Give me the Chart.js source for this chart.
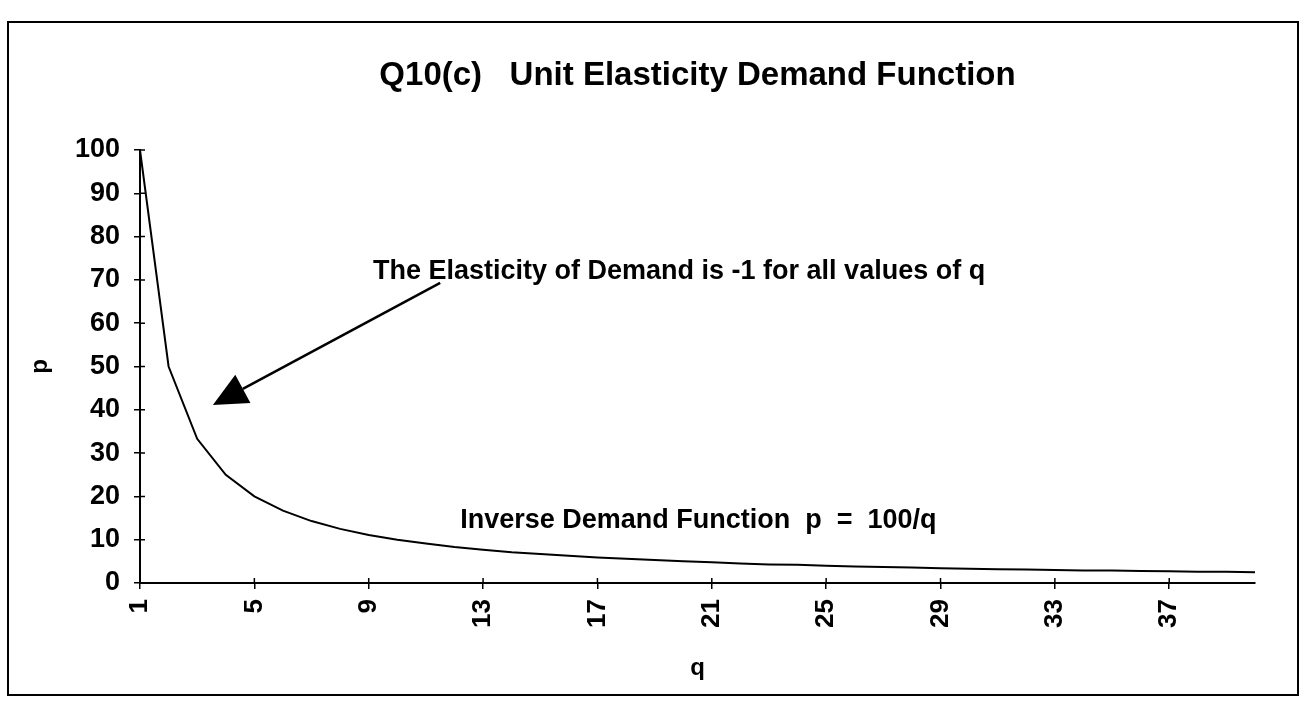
<!DOCTYPE html>
<html>
<head>
<meta charset="utf-8">
<script src="https://cdn.jsdelivr.net/npm/chart.js@4.4.0/dist/chart.umd.min.js"></script>
<style>
    body { margin: 0; background: #fff; }
    #wrap { position: relative; width: 1310px; height: 708px; }
    #frame { position: absolute; left: 7px; top: 21px; width: 1288px; height: 671px; border: 2px solid #000; pointer-events: none; }
</style>
</head>
<body>
<div id="wrap">
    <canvas id="myChart" width="1310" height="708"></canvas>
    <div id="frame"></div>
</div>
<script>
// q values (categories) and p = 100/q
const qValues = [1, 2, 3, 4, 5, 6, 7, 8, 9, 10, 11, 12, 13, 14, 15, 16, 17, 18, 19, 20,
                 21, 22, 23, 24, 25, 26, 27, 28, 29, 30, 31, 32, 33, 34, 35, 36, 37, 38, 39, 40];
const pValues = [100, 50, 33.3, 25, 20, 16.7, 14.3, 12.5, 11.1, 10, 9.1, 8.3, 7.7, 7.1, 6.7, 6.3, 5.9, 5.6, 5.3, 5,
                 4.8, 4.5, 4.3, 4.2, 4, 3.8, 3.7, 3.6, 3.4, 3.3, 3.2, 3.1, 3, 2.9, 2.9, 2.8, 2.7, 2.6, 2.6, 2.5];
const yTicks = [0, 10, 20, 30, 40, 50, 60, 70, 80, 90, 100];

const chartTitle = 'Q10(c)   Unit Elasticity Demand Function';
const noteElasticity = 'The Elasticity of Demand is -1 for all values of q';
const noteFunction = 'Inverse Demand Function  p  =  100/q';

document.addEventListener("DOMContentLoaded", () => {
    const FONT = "'Liberation Sans', Arial, sans-serif";

    // titulo, notas e seta desenhados por cima do grafico
    const notesPlugin = {
        id: 'notes',
        afterDraw(chart) {
            const c = chart.ctx;
            const xs = chart.scales.x;
            const ys = chart.scales.y;
            const area = chart.chartArea;
            c.save();
            c.fillStyle = '#000';
            c.strokeStyle = '#000';

            c.font = `bold 33px ${FONT}`;
            c.textAlign = 'center';
            c.textBaseline = 'middle';
            c.fillText(chartTitle, (area.left + area.right) / 2, 76);

            c.font = `bold 27px ${FONT}`;
            c.textAlign = 'left';
            c.fillText(noteElasticity, xs.getPixelForValue(8.15), ys.getPixelForValue(72));
            c.fillText(noteFunction, xs.getPixelForValue(11.2), ys.getPixelForValue(14.5));

            // seta
            const x0 = xs.getPixelForValue(10.5), y0 = ys.getPixelForValue(69.3);
            const x1 = xs.getPixelForValue(2.55), y1 = ys.getPixelForValue(41.1);
            const ang = Math.atan2(y1 - y0, x1 - x0);
            const headLen = 34, headW = 16;
            const bx = x1 - headLen * Math.cos(ang), by = y1 - headLen * Math.sin(ang);
            c.lineWidth = 2.5;
            c.beginPath();
            c.moveTo(x0, y0);
            c.lineTo(bx, by);
            c.stroke();
            c.beginPath();
            c.moveTo(x1, y1);
            c.lineTo(bx + headW * Math.sin(ang), by - headW * Math.cos(ang));
            c.lineTo(bx - headW * Math.sin(ang), by + headW * Math.cos(ang));
            c.closePath();
            c.fill();

            // marcas cruzando os eixos
            c.lineWidth = 1.5;
            c.beginPath();
            ys.ticks.forEach((t, i) => {
                const y = ys.getPixelForTick(i);
                c.moveTo(area.left, y);
                c.lineTo(area.left + 5, y);
            });
            xs.ticks.forEach((t, i) => {
                if (i % 4 !== 0) return;
                const x = xs.getPixelForTick(i);
                c.moveTo(x, area.bottom);
                c.lineTo(x, area.bottom - 5);
            });
            c.stroke();
            c.restore();
        }
    };

    const ctx = document.getElementById('myChart').getContext('2d');

    const myChart = new Chart(ctx, {
        type: 'line',
        data: {
            labels: qValues,
            datasets: [{
                label: 'p',
                data: pValues,
                borderColor: '#000',
                borderWidth: 2,
                pointRadius: 0,
                tension: 0,
                fill: false
            }]
        },
        options: {
            responsive: false,
            animation: false,
            layout: { padding: { top: 150, right: 55, left: 0, bottom: 0 } },
            plugins: {
                legend: { display: false },
                tooltip: { enabled: false }
            },
            scales: {
                x: {
                    type: 'category',
                    offset: false,
                    border: { color: '#000', width: 2 },
                    grid: {
                        drawOnChartArea: false,
                        tickLength: 6,
                        lineWidth: 1.5,
                        color: (c) => (c.index % 4 === 0 ? '#000' : 'rgba(0,0,0,0)')
                    },
                    ticks: {
                        autoSkip: false,
                        maxRotation: 90,
                        minRotation: 90,
                        padding: 10,
                        color: '#000',
                        font: { family: FONT, size: 26, weight: 'bold' },
                        callback: function (value, index) {
                            return index % 4 === 0 ? this.getLabelForValue(value) : '';
                        }
                    },
                    title: {
                        display: true,
                        text: 'q',
                        color: '#000',
                        font: { family: FONT, size: 24, weight: 'bold' },
                        padding: { top: 0, bottom: 25 }
                    },
                    afterFit: (s) => { s.height = 125; }
                },
                y: {
                    min: 0,
                    max: 100,
                    border: { color: '#000', width: 2 },
                    grid: {
                        drawOnChartArea: false,
                        tickLength: 6,
                        lineWidth: 1.5,
                        color: '#000'
                    },
                    afterBuildTicks: (s) => { s.ticks = yTicks.map(v => ({ value: v })); },
                    ticks: {
                        padding: 14,
                        color: '#000',
                        font: { family: FONT, size: 27, weight: 'bold' }
                    },
                    title: {
                        display: true,
                        text: 'p',
                        color: '#000',
                        font: { family: FONT, size: 24, weight: 'bold' },
                        padding: { top: 26, bottom: 0 }
                    },
                    afterFit: (s) => { s.width = 140; }
                }
            }
        },
        plugins: [notesPlugin]
    });
});
</script>
</body>
</html>
